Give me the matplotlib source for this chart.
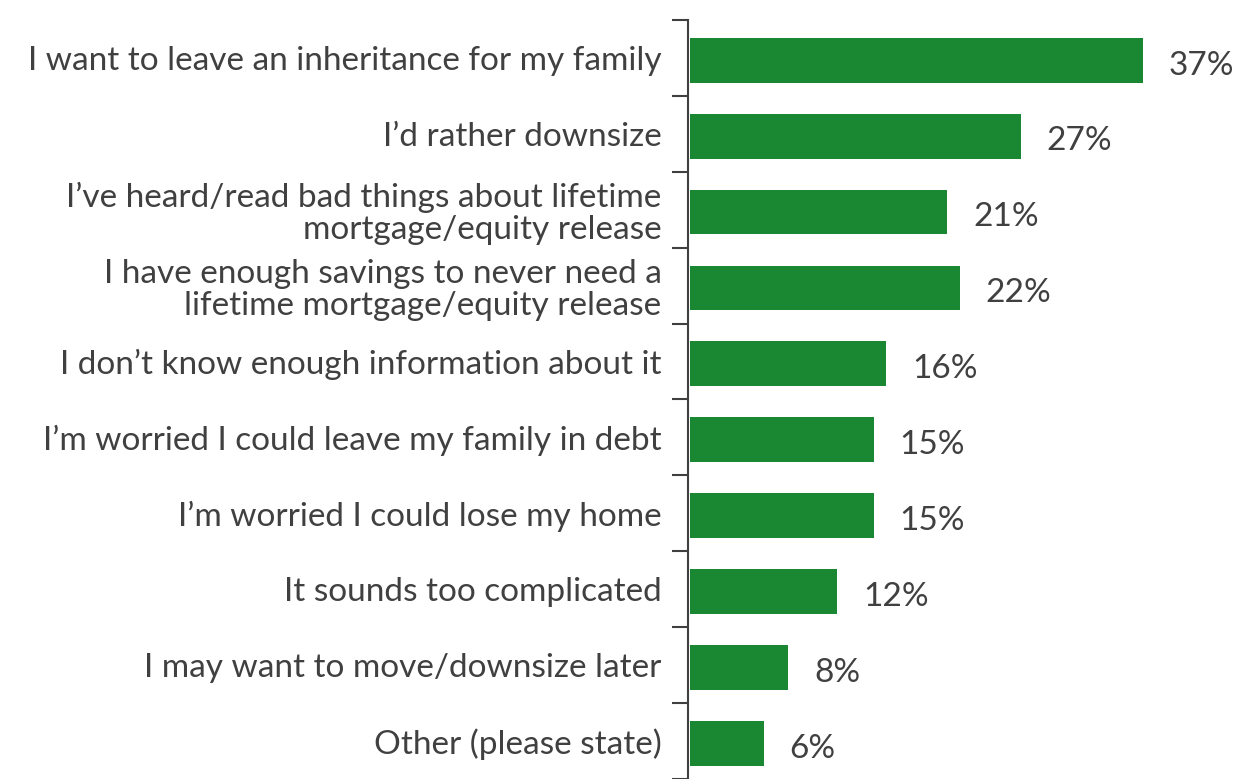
import numpy as np
import matplotlib
matplotlib.use("Agg")
from matplotlib import pyplot as plt

labels = [
    "I want to leave an inheritance for my family",
    "I\u2019d rather downsize",
    "I\u2019ve heard/read bad things about lifetime\nmortgage/equity release",
    "I have enough savings to never need a\nlifetime mortgage/equity release",
    "I don\u2019t know enough information about it",
    "I\u2019m worried I could leave my family in debt",
    "I\u2019m worried I could lose my home",
    "It sounds too complicated",
    "I may want to move/downsize later",
    "Other (please state)",
]
values = [37, 27, 21, 22, 16, 15, 15, 12, 8, 6]

green = "#1a8833"
grey = "#404040"

plt.rcParams['font.family'] = ['Lato', 'DejaVu Sans']
fs = 24

fig = plt.figure(figsize=(12.41, 7.79), dpi=100)
ax = fig.add_axes([688 / 1241, 0, 553 / 1241, 759 / 779])

y = np.arange(len(labels))
ax.barh(y + 0.03, values, height=0.59, color=green, left=0.2)
for yi, v in zip(y, values):
    ax.text(v + 0.2 + 2.1, yi + 0.1, "%d%%" % v, va="center", ha="left",
            fontsize=fs, color=grey)

ax.set_xlim(0, 45.2)
ax.set_ylim(9.41, -0.5)

ax.set_yticks(y)
ax.set_yticklabels(labels, fontsize=fs, color=grey, linespacing=1.08)
ax.set_yticks(np.arange(-0.5, 9.6, 1.0), minor=True)
ax.tick_params(axis="y", which="major", length=0, pad=19)
ax.tick_params(axis="y", which="minor", length=11.5, width=1.5, color=grey)
ax.set_xticks([])

for s in ["top", "right", "bottom"]:
    ax.spines[s].set_visible(False)
ax.spines["left"].set_color(grey)
ax.spines["left"].set_linewidth(1.5)

fig.savefig("out.png", dpi=100)
